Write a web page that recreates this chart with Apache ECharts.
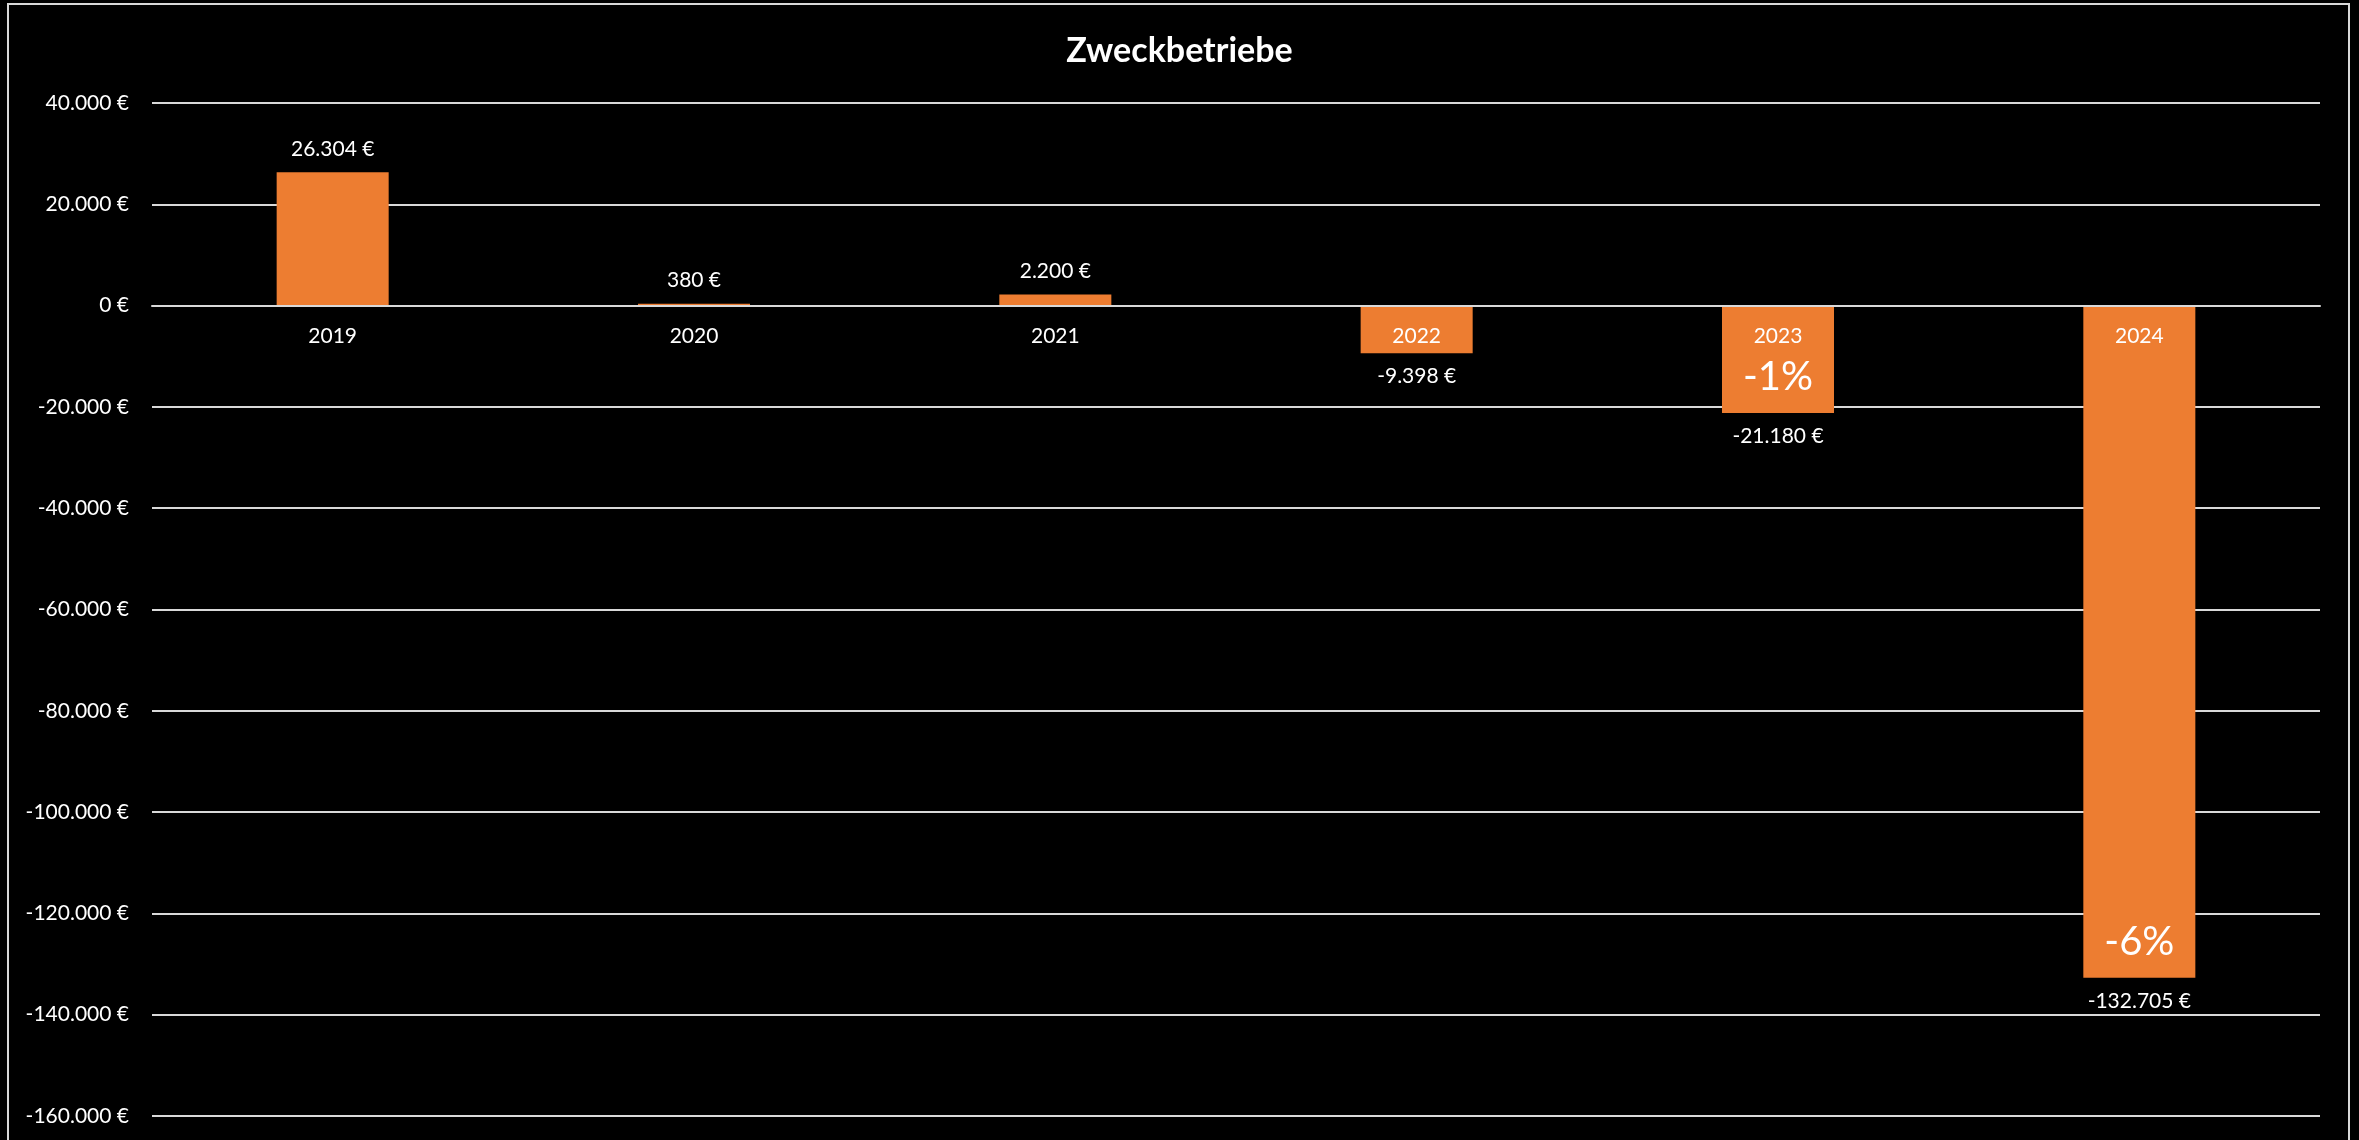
<!DOCTYPE html>
<html>
<head>
<meta charset="utf-8">
<title>Zweckbetriebe</title>
<script src="https://cdn.jsdelivr.net/npm/echarts@6/dist/echarts.min.js"></script>
<style>
  html, body { margin: 0; padding: 0; background: #000; }
  #chart { width: 2359px; height: 1140px; }
</style>
</head>
<body>
<div id="chart"></div>
<script>
// Daten
const years = ['2019', '2020', '2021', '2022', '2023', '2024'];
const values = [26304, 380, 2200, -9398, -21180, -132705];
const shares = ['', '', '', '', '-1%', '-6%'];
const yMin = -160000;
const yMax = 40000;
const yStep = 20000;

// 26304 -> "26.304 €"
function euro(n) {
  let s = Math.abs(n).toString().replace(/\B(?=(\d{3})+(?!\d))/g, '.');
  return (n < 0 ? '-' : '') + s + ' €';
}

const gridTop = 103, gridBottom = 24, H = 1140;
// x-Achse auf die Nulllinie legen
const plotH = H - gridTop - gridBottom;
const zeroOffset = -plotH * (0 - yMin) / (yMax - yMin);

const chart = echarts.init(document.getElementById('chart'));
chart.setOption({
  backgroundColor: '#000',
  textStyle: { fontFamily: 'Lato' },
  title: {
    text: 'Zweckbetriebe',
    left: 'center',
    top: 29,
    textStyle: { color: '#fff', fontSize: 34, fontWeight: 'bold', fontFamily: 'Lato' }
  },
  graphic: [{
    type: 'rect',
    shape: { x: 8, y: 4, width: 2341, height: 1160 },
    style: { fill: 'none', stroke: '#d9d9d9', lineWidth: 2 },
    silent: true
  }],
  grid: { left: 152, right: 39, top: gridTop, bottom: gridBottom, outerBoundsMode: 'none' },
  xAxis: {
    type: 'category',
    data: years,
    z: 10,
    position: 'bottom',
    offset: zeroOffset,
    axisLine: { show: true, onZero: false, lineStyle: { color: '#d9d9d9', width: 2 } },
    axisTick: { show: false },
    axisLabel: { color: '#fff', fontSize: 21, margin: 20 }
  },
  yAxis: {
    type: 'value',
    min: yMin,
    max: yMax,
    interval: yStep,
    axisLine: { show: false },
    axisTick: { show: false },
    splitLine: { lineStyle: { color: '#d9d9d9', width: 2 } },
    axisLabel: { color: '#fff', fontSize: 21, margin: 23, formatter: v => euro(v) }
  },
  series: [
    {
      name: 'Ergebnis',
      type: 'bar',
      data: values,
      barWidth: '31%',
      itemStyle: { color: '#ed7d31' },
      label: {
        show: true,
        position: 'outside',
        distance: 13,
        color: '#fff',
        fontSize: 21,
        formatter: p => euro(p.value)
      }
    },
    {
      name: 'Anteil',
      type: 'bar',
      data: values,
      barWidth: '31%',
      barGap: '-100%',
      silent: true,
      itemStyle: { color: 'rgba(0,0,0,0)' },
      label: {
        show: true,
        position: 'insideBottom',
        distance: 16,
        color: '#fff',
        fontSize: 40,
        formatter: p => shares[p.dataIndex]
      }
    }
  ]
});
</script>
</body>
</html>
